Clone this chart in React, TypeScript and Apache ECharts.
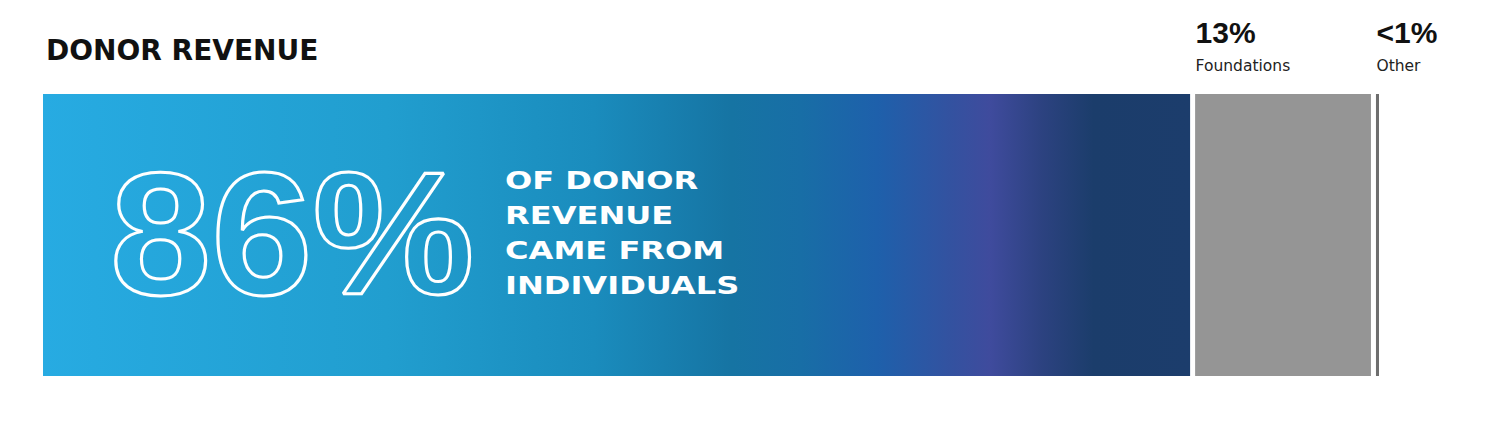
import React, { useEffect, useRef } from 'react';
import * as echarts from 'echarts';

// one stacked bar: share of donor revenue by source
const categories = ['Donor revenue'];
const segmentNames = ['Individuals', 'Foundations', 'Other'];
const segmentShares = [86, 13.5, 0.6];
const segmentLabels = ['86%', '13%', '<1%'];
const headlineLines = ['OF DONOR', 'REVENUE', 'CAME FROM', 'INDIVIDUALS'];

const gradientStops = [
  { offset: 0, color: '#27abe2' },
  { offset: 0.3, color: '#219ecf' },
  { offset: 0.48, color: '#1a8cbd' },
  { offset: 0.6, color: '#1674a3' },
  { offset: 0.66, color: '#186ea6' },
  { offset: 0.727, color: '#1e60ab' },
  { offset: 0.79, color: '#3352a0' },
  { offset: 0.825, color: '#3f4b9d' },
  { offset: 0.87, color: '#2c4280' },
  { offset: 0.915, color: '#1b3d6b' },
  { offset: 1, color: '#1c3d6c' },
];

const App: React.FC = () => {
  const chartRef = useRef<HTMLDivElement>(null);

  useEffect(() => {
    if (!chartRef.current) return;
    const chart = echarts.init(chartRef.current, undefined, { renderer: 'svg' });
    const total = segmentShares.reduce((a, b) => a + b, 0);

    const fills: any[] = [
      new echarts.graphic.LinearGradient(0, 0, 1, 0, gradientStops),
      '#959595',
      '#6e6e6e',
    ];

    const option: echarts.EChartsOption = {
      animation: false,
      backgroundColor: '#fff',
      title: {
        text: 'DONOR REVENUE',
        left: 41,
        top: 31,
        textStyle: { fontFamily: 'DejaVu Sans', fontWeight: 'bold', fontSize: 28, color: '#111' },
      },
      grid: { left: 40.5, width: 1341, top: 91.5, height: 287 },
      xAxis: { type: 'value', min: 0, max: total, show: false },
      yAxis: { type: 'category', data: categories, show: false },
      series: segmentNames.map((name, i) => ({
        name,
        type: 'bar',
        stack: 'total',
        barWidth: 287,
        data: [segmentShares[i]],
        // white border carves the thin gaps between segments
        itemStyle: { color: fills[i], borderColor: '#fff', borderWidth: 2.5 },
        label: {
          show: i > 0,
          position: [3, -79.5],
          formatter: `{v|${segmentLabels[i]}}\n{n|${name}}`,
          rich: {
            v: { fontFamily: 'Liberation Sans', fontWeight: 'bold', fontSize: 30, lineHeight: 40, color: '#111' },
            n: { fontFamily: 'DejaVu Sans', fontSize: 15.5, lineHeight: 27, color: '#222' },
          },
        },
      })),
      graphic: [
        {
          type: 'text',
          z: 100,
          x: 110,
          y: 233.5,
          scaleX: 1.04,
          style: {
            text: segmentLabels[0],
            font: 'bold 175px "Liberation Sans"',
            fill: 'none',
            stroke: '#fff',
            lineWidth: 3,
            verticalAlign: 'middle',
          },
        },
        {
          type: 'text',
          z: 100,
          x: 505,
          y: 163,
          scaleX: 1.31,
          style: {
            text: headlineLines.join('\n'),
            font: 'bold 24.5px "DejaVu Sans"',
            lineHeight: 35,
            fill: '#fff',
            verticalAlign: 'top',
          },
        },
      ],
    };

    chart.setOption(option);
    return () => chart.dispose();
  }, []);

  return (
    <div
      ref={chartRef}
      style={{ position: 'absolute', left: 0, top: 0, width: 1500, height: 428 }}
    />
  );
};

export default App;
